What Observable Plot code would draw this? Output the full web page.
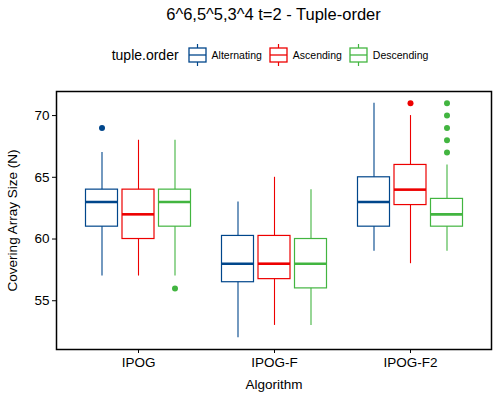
<!DOCTYPE html>
<html>
<head>
<meta charset="utf-8">
<script src="https://cdn.jsdelivr.net/npm/d3@7"></script>
<script src="https://cdn.jsdelivr.net/npm/@observablehq/plot@0.6"></script>
<style>
  body { margin: 0; background: #fff; font-family: "Liberation Sans", Arial, sans-serif; }
  #wrap { width: 500px; height: 400px; position: relative; }
  #title { height: 30px; padding-left: 56px; width: 435px; text-align: center; font-size: 16.5px; line-height: 29px; color: #000; }
  #legend { height: 50px; padding-left: 56px; width: 435px; display: flex; justify-content: center; align-items: center; }
  #legend .lt { font-size: 14px; margin-right: 9px; }
  #legend .lab { font-size: 10.5px; margin-left: 5px; margin-right: 7px; }
  #legend svg { display: block; }
</style>
</head>
<body>
<div id="wrap">
  <div id="title">6^6,5^5,3^4 t=2 - Tuple-order</div>
  <div id="legend"></div>
  <div id="chart"></div>
</div>
<script>
// ---- data ----
const algorithms = ["IPOG", "IPOG-F", "IPOG-F2"];
const orders = ["Alternating", "Ascending", "Descending"];
const colors = ["#00468B", "#ED0000", "#42B540"];
// per order, per algorithm: [lower whisker, q1, median, q3, upper whisker]
const alternatingStats = [[57, 61, 63, 64, 67], [52, 56.5, 58, 60.25, 63], [59, 61, 63, 65, 71]];
const ascendingStats   = [[57, 60, 62, 64, 68], [53, 56.75, 58, 60.25, 65], [58, 62.75, 64, 66, 70]];
const descendingStats  = [[57, 61, 63, 64, 68], [53, 56, 58, 60, 64], [59, 61, 62, 63.25, 66]];
const alternatingOutliers = [["IPOG", 69]];
const ascendingOutliers   = [["IPOG-F2", 71]];
const descendingOutliers  = [["IPOG", 56], ["IPOG-F2", 67], ["IPOG-F2", 68], ["IPOG-F2", 69], ["IPOG-F2", 70], ["IPOG-F2", 71]];
const yTicks = [55, 60, 65, 70];

const statsByOrder = [alternatingStats, ascendingStats, descendingStats];
const outliersByOrder = [alternatingOutliers, ascendingOutliers, descendingOutliers];

// legend
const legend = document.getElementById("legend");
const lt = document.createElement("span"); lt.className = "lt"; lt.textContent = "tuple.order"; legend.appendChild(lt);
orders.forEach((o, i) => {
  const ns = "http://www.w3.org/2000/svg";
  const s = document.createElementNS(ns, "svg");
  s.setAttribute("width", 19); s.setAttribute("height", 24);
  s.innerHTML = `<line x1="9.5" x2="9.5" y1="1" y2="23" stroke="${colors[i]}" stroke-width="1.2"/>
    <rect x="1" y="5" width="17" height="14" fill="white" stroke="${colors[i]}" stroke-width="1.3"/>
    <line x1="1" x2="18" y1="12" y2="12" stroke="${colors[i]}" stroke-width="1.3"/>`;
  legend.appendChild(s);
  const lab = document.createElement("span"); lab.className = "lab"; lab.textContent = o; legend.appendChild(lab);
});

// table
const boxes = [];
statsByOrder.forEach((st, i) => st.forEach((v, j) => boxes.push({order: orders[i], algorithm: algorithms[j], lo: v[0], q1: v[1], med: v[2], q3: v[3], hi: v[4]})));
const outs = [];
outliersByOrder.forEach((arr, i) => arr.forEach(([a, v]) => outs.push({order: orders[i], algorithm: a, value: v})));

const step = 36.5;
const marks = [];
orders.forEach((o, i) => {
  const dx = (i - 1) * step;
  const b = boxes.filter(d => d.order === o);
  const p = outs.filter(d => d.order === o);
  const c = colors[i];
  marks.push(Plot.ruleX(b, {x: "algorithm", y1: "lo", y2: "hi", stroke: c, strokeWidth: 1.1, dx}));
  marks.push(Plot.barY(b, {x: "algorithm", y1: "q1", y2: "q3", fill: "white", stroke: c, strokeWidth: 1.2, dx}));
  marks.push(Plot.tickY(b, {x: "algorithm", y: "med", stroke: c, strokeWidth: 2.6, dx}));
  marks.push(Plot.dot(p, {x: "algorithm", y: "value", r: 3, fill: c, stroke: "none", dx}));
});

const chart = Plot.plot({
  width: 500,
  height: 320,
  marginLeft: 56,
  marginRight: 9,
  marginTop: 11,
  marginBottom: 51,
  style: {fontFamily: "Liberation Sans, Arial, sans-serif", fontSize: "13px", color: "#000", background: "white"},
  x: {type: "band", domain: algorithms, paddingInner: 0.766, paddingOuter: 0.474, align: 0.5},
  y: {domain: [51.05, 71.95]},
  marks: [
    ...marks,
    Plot.axisY({ticks: yTicks, tickSize: 4, tickPadding: 3, fontSize: 13.5, label: "Covering Array Size (N)", labelArrow: false, labelAnchor: "center", labelOffset: 49, fill: "#000"}),
    Plot.axisX({tickSize: 4, tickPadding: 4, fontSize: 13.5, label: "Algorithm", labelArrow: false, labelAnchor: "center", labelOffset: 39, fill: "#000"}),
    Plot.frame({stroke: "black", strokeWidth: 1.5})
  ]
});
document.getElementById("chart").appendChild(chart);
</script>
</body>
</html>
